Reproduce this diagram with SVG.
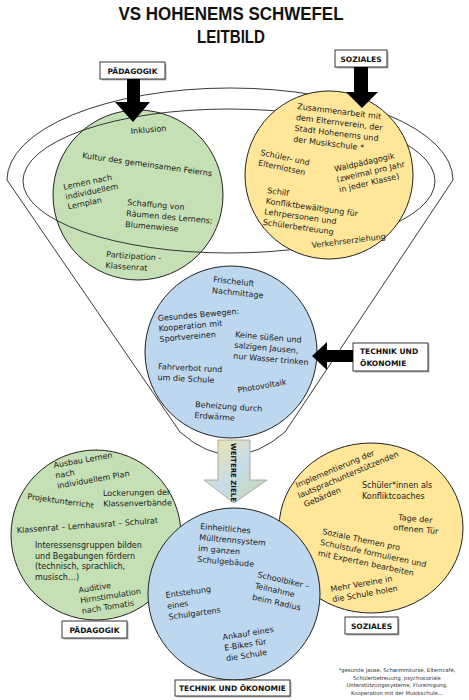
<svg xmlns="http://www.w3.org/2000/svg" width="469" height="700" viewBox="0 0 469 700">
<defs>
<style>
.t{font-family:"DejaVu Sans","Liberation Sans",sans-serif;font-size:8px;fill:#1a1a1a}
.lbl{font-family:"DejaVu Sans","Liberation Sans",sans-serif;font-weight:bold;font-size:7.5px;fill:#111}
.title{font-family:"Liberation Sans","DejaVu Sans",sans-serif;font-weight:bold;font-size:18px;fill:#111}
.box{fill:#fff;stroke:#222;stroke-width:0.9}
.shd{fill:#b5b5b5}
.ln{fill:none;stroke:#222;stroke-width:0.9}
.g{fill:#c5e0b4;stroke:#222;stroke-width:1}
.y{fill:#ffe699;stroke:#222;stroke-width:1}
.b{fill:#bdd7ee;stroke:#222;stroke-width:1}
.arr{fill:#000}
.foot{font-family:"DejaVu Sans","Liberation Sans",sans-serif;font-size:5.3px;fill:#333}
</style>
<linearGradient id="wz" x1="0" y1="0" x2="1" y2="1">
<stop offset="0" stop-color="#f6e7a0"/>
<stop offset="0.5" stop-color="#c9dbe9"/>
<stop offset="1" stop-color="#c3d6a6"/>
</linearGradient>
</defs>
<rect width="469" height="700" fill="#fff"/>

<g id="title">
<text class="title" x="231" y="20" text-anchor="middle" textLength="225" lengthAdjust="spacingAndGlyphs">VS HOHENEMS SCHWEFEL</text>
<text class="title" x="231" y="43" text-anchor="middle" textLength="68" lengthAdjust="spacingAndGlyphs">LEITBILD</text>
</g>

<g id="top-paedagogik">
<circle class="g" cx="138" cy="195" r="85"/>
<text class="t" x="131" y="134" transform="rotate(-5 131 134)">Inklusion</text>
<text class="t" transform="translate(82,158) rotate(8)">Kultur des gemeinsamen Feierns</text>
<text class="t" transform="translate(64,190) rotate(-12)"><tspan x="0" y="0">Lernen nach</tspan><tspan x="0" y="10">individuellem</tspan><tspan x="0" y="20">Lernplan</tspan></text>
<text class="t" transform="translate(127,205) rotate(5)"><tspan x="0" y="0">Schaffung von</tspan><tspan x="0" y="11">Räumen des Lernens;</tspan><tspan x="0" y="22">Blumenwiese</tspan></text>
<text class="t" transform="translate(106,257) rotate(4)"><tspan x="0" y="0">Partizipation -</tspan><tspan x="0" y="11">Klassenrat</tspan></text>
</g>

<g id="funnel">
<path class="ln" d="M7,180 A223,92 0 0 1 453,180 L285,432 Q232,478 180,432 Z"/>
<ellipse class="ln" cx="229" cy="181" rx="206" ry="72"/>
</g>

<g id="top-soziales">
<circle class="y" cx="329" cy="175" r="84"/>
<text class="t" transform="translate(297,109) rotate(7)"><tspan x="0" y="0">Zusammenarbeit mit</tspan><tspan x="0" y="11">dem Elternverein, der</tspan><tspan x="0" y="22">Stadt Hohenems und</tspan><tspan x="0" y="33">der Musikschule *</tspan></text>
<text class="t" transform="translate(260,155) rotate(12)"><tspan x="0" y="0">Schüler- und</tspan><tspan x="0" y="10.5">Elternlotsen</tspan></text>
<text class="t" transform="translate(335,172) rotate(-13)"><tspan x="0" y="0">Waldpädagogik</tspan><tspan x="0" y="10.5">(zweimal pro Jahr</tspan><tspan x="0" y="21">in jeder Klasse)</tspan></text>
<text class="t" transform="translate(267,193) rotate(8)"><tspan x="0" y="0">Schilf</tspan><tspan x="0" y="10.7">Konfliktbewältigung für</tspan><tspan x="0" y="21.4">Lehrpersonen und</tspan><tspan x="0" y="32.1">Schülerbetreuung</tspan></text>
<text class="t" transform="translate(312,248) rotate(-7)">Verkehrserziehung</text>
</g>

<g id="mid-technik">
<circle class="b" cx="231" cy="352" r="86"/>
<text class="t" transform="translate(213,282) rotate(6)"><tspan x="0" y="0">Frischeluft</tspan><tspan x="0" y="11">Nachmittage</tspan></text>
<text class="t" transform="translate(158,321) rotate(-5)"><tspan x="0" y="0">Gesundes Bewegen:</tspan><tspan x="0" y="10.5">Kooperation mit</tspan><tspan x="0" y="21">Sportvereinen</tspan></text>
<text class="t" transform="translate(235,337) rotate(5)"><tspan x="0" y="0">Keine süßen und</tspan><tspan x="0" y="10.8">salzigen Jausen,</tspan><tspan x="0" y="21.6">nur Wasser trinken</tspan></text>
<text class="t" transform="translate(158,369) rotate(3)"><tspan x="0" y="0">Fahrverbot rund</tspan><tspan x="0" y="11">um die Schule</tspan></text>
<text class="t" transform="translate(238,393) rotate(-10)">Photovoltaik</text>
<text class="t" transform="translate(195,407) rotate(4)"><tspan x="0" y="0">Beheizung durch</tspan><tspan x="0" y="11">Erdwärme</tspan></text>
</g>

<g id="label-paedagogik-top">
<rect class="shd" x="101.5" y="63.5" width="65" height="17"/>
<rect class="box" x="100" y="62" width="65" height="17"/>
<text class="lbl" x="132.5" y="73.5" text-anchor="middle">PÄDAGOGIK</text>
<path class="arr" d="M127,79 H140 V102 H150 L133,122 L115,102 H127 Z"/>
</g>

<g id="label-soziales-top">
<rect class="shd" x="336.5" y="51.5" width="52" height="17"/>
<rect class="box" x="335" y="50" width="52" height="17"/>
<text class="lbl" x="361" y="61.5" text-anchor="middle">SOZIALES</text>
<path class="arr" d="M354,67 H368 V92 H378 L362,108 L346,92 H354 Z"/>
</g>

<g id="label-technik-mid">
<rect class="shd" x="354.5" y="344.5" width="75" height="28"/>
<rect class="box" x="353" y="343" width="75" height="28"/>
<text class="lbl"><tspan x="360" y="354">TECHNIK UND</tspan><tspan x="360" y="366">ÖKONOMIE</tspan></text>
<path class="arr" d="M353,350 H327 V342 L312,356 L327,370 V362 H353 Z"/>
</g>

<g id="bottom-paedagogik">
<circle class="g" cx="96" cy="535" r="85"/>
<text class="t" transform="translate(54,468) rotate(-10)"><tspan x="0" y="0">Ausbau Lernen</tspan><tspan x="0" y="10.5">nach</tspan><tspan x="0" y="21">individuellem Plan</tspan></text>
<text class="t" transform="translate(27,499) rotate(8)">Projektunterricht</text>
<text class="t" transform="translate(103,496) rotate(-1)"><tspan x="0" y="0">Lockerungen der</tspan><tspan x="0" y="10.5">Klassenverbände</tspan></text>
<text class="t" transform="translate(17,533) rotate(-4)">Klassenrat – Lernhausrat – Schulrat</text>
<text class="t"><tspan x="35" y="548">Interessensgruppen bilden</tspan><tspan x="35" y="558.5">und Begabungen fördern</tspan><tspan x="35" y="569">(technisch, sprachlich,</tspan><tspan x="35" y="579.5">musisch…)</tspan></text>
<text class="t" transform="translate(79,593) rotate(-9)"><tspan x="0" y="0">Auditive</tspan><tspan x="0" y="10.5">Hirnstimulation</tspan><tspan x="0" y="21">nach Tomatis</tspan></text>
</g>

<g id="bottom-soziales">
<ellipse class="y" cx="371" cy="528" rx="92" ry="85"/>
<text class="t" transform="translate(297,488) rotate(-23)"><tspan x="0" y="0">Implementierung der</tspan><tspan x="-2" y="10.5">lautsprachunterstützenden</tspan><tspan x="0" y="21">Gebärden</tspan></text>
<text class="t"><tspan x="362" y="488">Schüler*innen als</tspan><tspan x="362" y="498.5">Konfliktcoaches</tspan></text>
<text class="t" transform="translate(398,520) rotate(5)"><tspan x="0" y="0">Tage der</tspan><tspan x="-4" y="10.5">offenen Tür</tspan></text>
<text class="t" transform="translate(322,534) rotate(12)"><tspan x="0" y="0">Soziale Themen pro</tspan><tspan x="0" y="11">Schulstufe formulieren und</tspan><tspan x="0" y="22">mit Experten bearbeiten</tspan></text>
<text class="t" transform="translate(331,592) rotate(-10)"><tspan x="0" y="0">Mehr Vereine in</tspan><tspan x="0" y="10.5">die Schule holen</tspan></text>
</g>

<g id="bottom-technik">
<circle class="b" cx="234" cy="594" r="86"/>
<text class="t" transform="translate(200,529) rotate(5)"><tspan x="0" y="0">Einheitliches</tspan><tspan x="0" y="11">Mülltrennsystem</tspan><tspan x="0" y="22">im ganzen</tspan><tspan x="0" y="33">Schulgebäude</tspan></text>
<text class="t" transform="translate(257,577) rotate(13)"><tspan x="0" y="0">Schoolbiker –</tspan><tspan x="0" y="11.5">Teilnahme</tspan><tspan x="0" y="23">beim Radius</tspan></text>
<text class="t" transform="translate(166,598) rotate(-8)"><tspan x="0" y="0">Entstehung</tspan><tspan x="0" y="11">eines</tspan><tspan x="0" y="22">Schulgartens</tspan></text>
<text class="t" transform="translate(223,640) rotate(-9)"><tspan x="0" y="0">Ankauf eines</tspan><tspan x="0" y="10.8">E-Bikes für</tspan><tspan x="0" y="21.6">die Schule</tspan></text>
</g>

<g id="weitere-ziele">
<path d="M218,440 H250 V480 H267 L234,503 L204,480 H218 Z" fill="url(#wz)" stroke="#9a9a9a" stroke-width="0.8"/>
<text class="lbl" font-size="7" transform="translate(231,443) rotate(90)" style="font-size:7px">WEITERE ZIELE</text>
</g>

<g id="label-paedagogik-bottom">
<rect class="shd" x="63.5" y="622.5" width="65" height="17"/>
<rect class="box" x="62" y="621" width="65" height="17"/>
<text class="lbl" x="94.5" y="632.5" text-anchor="middle">PÄDAGOGIK</text>
</g>
<g id="label-soziales-bottom">
<rect class="shd" x="346.5" y="618.5" width="53" height="17"/>
<rect class="box" x="345" y="617" width="53" height="17"/>
<text class="lbl" x="371.5" y="628.5" text-anchor="middle">SOZIALES</text>
</g>
<g id="label-technik-bottom">
<rect class="shd" x="176.5" y="681.5" width="115" height="16"/>
<rect class="box" x="175" y="680" width="115" height="16"/>
<text class="lbl" x="232.5" y="691" text-anchor="middle">TECHNIK UND ÖKONOMIE</text>
</g>

<g id="footnote">
<text class="foot" text-anchor="middle"><tspan x="397" y="672">*gesunde Jause, Schwimmkurse, Elterncafé,</tspan><tspan x="397" y="679.5">Schülerbetreuung, psychosoziale</tspan><tspan x="397" y="687">Unterstützungssysteme, Flureinigung,</tspan><tspan x="397" y="694.5">Kooperation mit der Musikschule…</tspan></text>
</g>
</svg>
